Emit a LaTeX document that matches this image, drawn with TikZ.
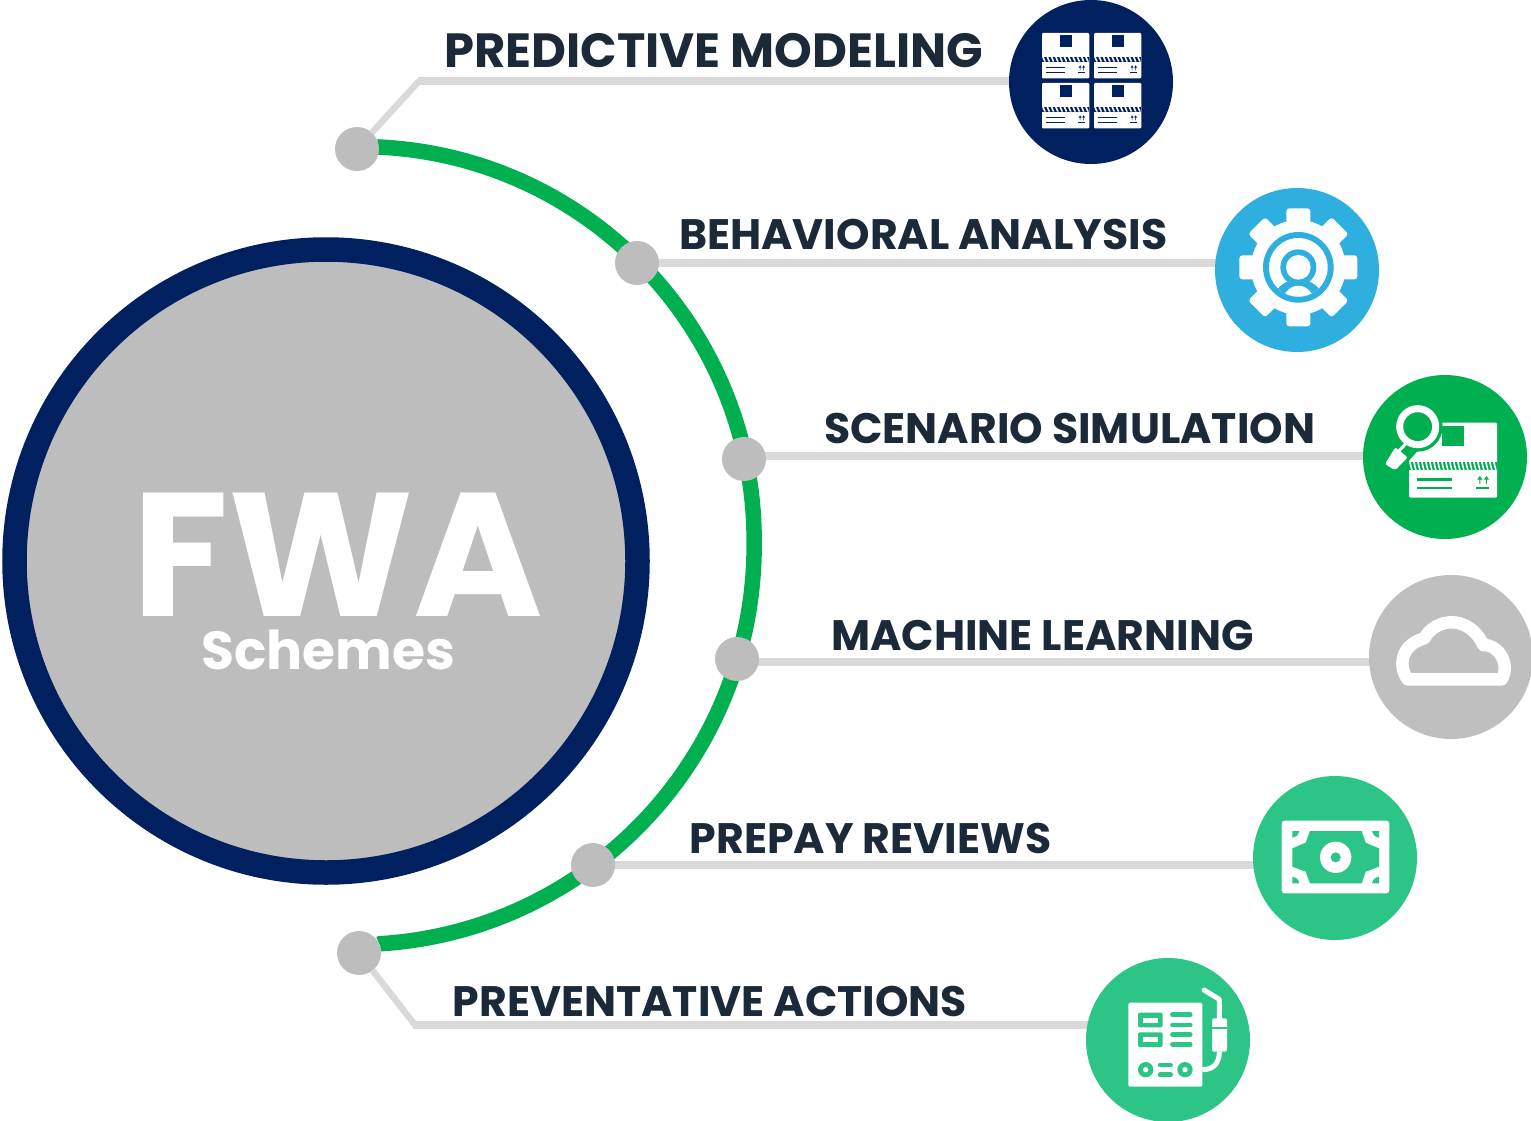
\documentclass[tikz,border=0pt]{standalone}
\usepackage{fontspec}
\setmainfont{Poppins}
\usetikzlibrary{backgrounds,calc}
\definecolor{navy}{HTML}{012060}
\definecolor{skyb}{HTML}{2FAEE0}
\definecolor{gren}{HTML}{00B050}
\definecolor{teal1}{HTML}{2CC585}
\definecolor{grey1}{HTML}{BFBFBF}
\definecolor{grey2}{HTML}{BDBDBD}
\definecolor{conn1}{HTML}{D9D9D9}
\definecolor{ink}{HTML}{1C2938}
\tikzset{
  x=1pt,y=-1pt,
  icon/.style={circle,minimum size=164pt,inner sep=0pt,fill=#1},
  dot/.style={circle,minimum size=44pt,inner sep=0pt,fill=grey2},
  lab/.style={inner sep=0pt,text=ink,font=\bfseries\fontsize{42.6pt}{42.6pt}\selectfont,anchor=base west},
  conn/.style={draw=conn1,line width=8pt},
  conndiag/.style={draw=conn1,line width=6.5pt},
}
% box icon: colour, left, top, width, height, stripes, stripe rule width
\newcommand{\boxicon}[7]{%
 \begin{scope}[shift={(#2,#3)},xscale=#4,yscale=#5]
  \fill[white,rounded corners=1.2pt] (0,0) rectangle (1,1);
  \fill[#1] (.38,.045) rectangle (.63,.31);
  \fill[#1] (0,.52) rectangle (1,.63);
  \pgfmathsetmacro{\stp}{1/#6}
  \foreach \k in {1,...,#6}{
   \fill[white] ({(\k-1)*\stp},.52) -- ({(\k-.6)*\stp},.52) -- ({(\k-.1)*\stp},.63) -- ({(\k-.5)*\stp},.63) -- cycle;
  }
  \draw[#1,line width=#7] (.09,.76) -- (.49,.76) (.09,.87) -- (.49,.87);
  \draw[#1,line width=#7] (.76,.87) -- (.91,.87);
  \fill[#1] (.80,.82) -- (.80,.76) -- (.775,.76) -- (.805,.71) -- (.835,.76) -- (.81,.76) -- (.81,.82) -- cycle;
  \fill[#1] (.875,.82) -- (.875,.76) -- (.85,.76) -- (.88,.71) -- (.91,.76) -- (.885,.76) -- (.885,.82) -- cycle;
 \end{scope}}
\begin{document}
\begin{tikzpicture}
\useasboundingbox (0,0) rectangle (1531,1121);
% central circle
\node[circle,minimum size=623pt,inner sep=0pt,fill=grey2,draw=navy,line width=24.5pt] (hub) at (326,561) {};
\node[inner sep=0pt,text=white,anchor=base,font=\bfseries\fontsize{176pt}{176pt}\selectfont] (fwa) at (338,616) {FWA};
\node[inner sep=0pt,text=white,anchor=base,font=\bfseries\fontsize{53.5pt}{53.5pt}\selectfont] (sch) at (328,669) {Schemes};
% dots
\node[dot] (d1) at (357,149) {};
\node[dot] (d2) at (637,263) {};
\node[dot] (d3) at (744,459) {};
\node[dot] (d4) at (737,659) {};
\node[dot] (d5) at (593,865) {};
\node[dot] (d6) at (359,953) {};
% icon discs
\node[icon=navy] (i1) at (1091,82) {};
\node[icon=skyb] (i2) at (1297,270) {};
\node[icon=gren] (i3) at (1445,457) {};
\node[icon=grey1] (i4) at (1451,657) {};
\node[icon=teal1] (i5) at (1335,858) {};
\node[icon=teal1] (i6) at (1168,1040) {};
% labels
\node[lab,font=\bfseries\fontsize{48pt}{48pt}\selectfont] (t1) at (444,68) {PREDICTIVE MODELING};
\node[lab] (t2) at (679,249.5) {BEHAVIORAL ANALYSIS};
\node[lab] (t3) at (824,443.5) {SCENARIO SIMULATION};
\node[lab] (t4) at (831,650.5) {MACHINE LEARNING};
\node[lab] (t5) at (689.5,853.5) {PREPAY REVIEWS};
\node[lab] (t6) at (452.5,1016) {PREVENTATIVE ACTIONS};
% connectors and arc underneath
\coordinate (k1) at (419,81);
\coordinate (k2) at (637,263);
\coordinate (k3) at (744,456);
\coordinate (k4) at (737,662);
\coordinate (k5) at (593,865);
\coordinate (k6) at (415,1025);
\coordinate (a1) at (378,147);
\begin{scope}[on background layer]
 \draw[conndiag] (d1) -- (k1);
 \draw[conn] ($(k1)+(-1,0)$) -- (k1 -| i1);
 \draw[conn] (k2) -- (k2 -| i2);
 \draw[conn] (k3) -- (k3 -| i3);
 \draw[conn] (k4) -- (k4 -| i4);
 \draw[conn] (k5) -- (k5 -| i5);
 \draw[conndiag] (d6) -- (k6);
 \draw[conn] ($(k6)+(-2,0)$) -- (k6 -| i6);
 \draw[gren,line width=15.5pt] (d1) -- (a1) arc[start angle=-87.4,end angle=0,radius=394]
   -- ++(0,5) arc[start angle=0,end angle=86.4,radius=399] -- (d6);
\end{scope}
% box icons
\boxicon{navy}{1042}{33}{47.3}{45.5}{11}{1.3pt}
\boxicon{navy}{1094}{33}{47.3}{45.5}{11}{1.3pt}
\boxicon{navy}{1042}{83}{47.3}{45.5}{11}{1.3pt}
\boxicon{navy}{1094}{83}{47.3}{45.5}{11}{1.3pt}
% gear
\begin{scope}[shift={(1210,185)},scale=1/3]
 \fill[white] (265,247) circle (142);
 \foreach \a in {0,45,...,315}{
  \fill[white,rotate around={\a:(265,247)},rounded corners=3pt] (229,70) rectangle (301,140);
 }
 \fill[skyb] (265,247) circle (106);
 \fill[white] (265,247) circle (88);
 \begin{scope}
  \clip (265,247) circle (88);
  \fill[skyb] (265,355) ellipse (78 and 72);
  \fill[white] (265,362) ellipse (50 and 60);
 \end{scope}
 \fill[skyb] (265,247) circle (54);
 \fill[white] (265,247) circle (37);
\end{scope}
% scenario icon
\boxicon{gren}{1409}{422.7}{88}{75}{22}{2.5pt}
\begin{scope}[shift={(1355,370)},scale=1/3]
 \fill[gren] (188,170) circle (75);
 \fill[gren] (90,300) -- (180,215) -- (190,240) -- (120,320) -- cycle;
 \draw[white,line width=7pt] (188,170) circle (54);
 \draw[white,line width=3pt] (155,218) -- (130,245);
 \fill[white,rounded corners=2pt] (121,232) -- (158,262) -- (120,301) -- (90,282) -- cycle;
\end{scope}
% cloud
\begin{scope}[shift={(1360,570)},scale=1/3]
 \draw[white,line width=12.5pt,line join=round]
  (143,328) .. controls (115,290) and (120,225) .. (193,205)
  .. controls (225,145) and (325,130) .. (370,225)
  .. controls (420,225) and (450,285) .. (425,328) -- cycle;
\end{scope}
% money
\begin{scope}[shift={(1245,770)},scale=1/3]
 \fill[white,rounded corners=3pt] (110,152) rectangle (433,370);
 \fill[teal1] (195,183) -- (350,183) -- (362,218) -- (402,235) -- (402,290) -- (362,305) -- (350,340) -- (195,340) -- (182,305) -- (142,290) -- (142,235) -- (182,218) -- cycle;
 \fill[teal1] (142,183) -- (163,183) .. controls (160,195) and (155,200) .. (142,203) -- cycle;
 \fill[teal1] (402,183) -- (381,183) .. controls (384,195) and (389,200) .. (402,203) -- cycle;
 \fill[teal1] (142,340) -- (163,340) .. controls (160,328) and (155,323) .. (142,320) -- cycle;
 \fill[teal1] (402,340) -- (381,340) .. controls (384,328) and (389,323) .. (402,320) -- cycle;
 \fill[white] (272,262) circle (47);
 \fill[teal1] (272,262) circle (15);
\end{scope}
% welder panel
\begin{scope}[shift={(1080,950)},scale=1/3]
 \fill[white,rounded corners=1.5pt] (145,158) rectangle (367,410);
 \fill[teal1,rounded corners=2pt] (174,188) rectangle (248,232);
 \fill[white] (189,203) rectangle (233,218);
 \fill[teal1,rounded corners=2pt] (174,247) rectangle (248,291);
 \fill[white] (189,262) rectangle (233,277);
 \draw[teal1,line width=4.5pt,line cap=round] (277,194) -- (331,194) (277,225) -- (331,225) (277,254) -- (331,254) (277,284) -- (331,284)
   (240,345) -- (272,345) (240,374) -- (272,374);
 \fill[teal1] (197,359) circle (23);
 \fill[white] (197,359) circle (8);
 \fill[teal1] (315,359) circle (23);
 \fill[white] (315,359) circle (8);
 \draw[white,line width=5pt] (367,359) .. controls (400,359) and (418,340) .. (418,305);
 \draw[white,line width=5pt,line cap=round,line join=round] (372,120) -- (418,148) -- (418,205);
 \fill[white,rounded corners=2pt] (396,205) rectangle (441,305);
 \fill[teal1] (396,232) rectangle (441,237);
\end{scope}
\end{tikzpicture}
\end{document}
